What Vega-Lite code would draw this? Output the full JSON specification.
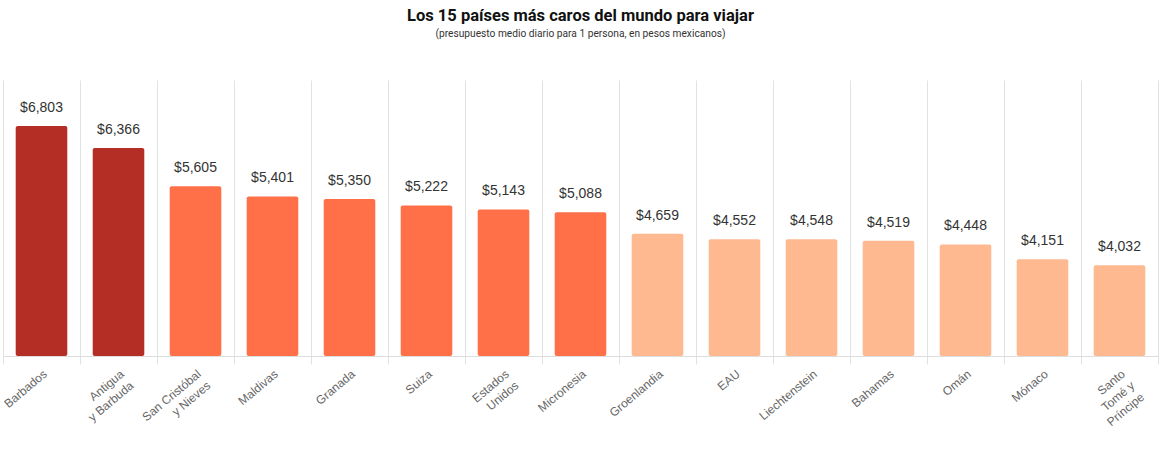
{
  "$schema": "https://vega.github.io/schema/vega-lite/v6.json",
  "autosize": "none",
  "width": 1155,
  "height": 276,
  "padding": {"left": 3, "top": 80, "right": 2, "bottom": 94},
  "background": "white",
  "title": {
    "text": "Los 15 países más caros del mundo para viajar",
    "subtitle": "(presupuesto medio diario para 1 persona, en pesos mexicanos)",
    "anchor": "middle",
    "offset": 41,
    "font": "Roboto",
    "fontSize": 16.5,
    "fontWeight": "bold",
    "color": "#111111",
    "subtitleFont": "Roboto",
    "subtitleFontSize": 10.2,
    "subtitleColor": "#333333",
    "subtitlePadding": 4
  },
  "data": {
    "values": [
      {"pais": "Barbados", "presupuesto": 6803, "grupo": "alto"},
      {"pais": "Antigua\ny Barbuda", "presupuesto": 6366, "grupo": "alto"},
      {"pais": "San Cristóbal\ny Nieves", "presupuesto": 5605, "grupo": "medio"},
      {"pais": "Maldivas", "presupuesto": 5401, "grupo": "medio"},
      {"pais": "Granada", "presupuesto": 5350, "grupo": "medio"},
      {"pais": "Suiza", "presupuesto": 5222, "grupo": "medio"},
      {"pais": "Estados\nUnidos", "presupuesto": 5143, "grupo": "medio"},
      {"pais": "Micronesia", "presupuesto": 5088, "grupo": "medio"},
      {"pais": "Groenlandia", "presupuesto": 4659, "grupo": "bajo"},
      {"pais": "EAU", "presupuesto": 4552, "grupo": "bajo"},
      {"pais": "Liechtenstein", "presupuesto": 4548, "grupo": "bajo"},
      {"pais": "Bahamas", "presupuesto": 4519, "grupo": "bajo"},
      {"pais": "Omán", "presupuesto": 4448, "grupo": "bajo"},
      {"pais": "Mónaco", "presupuesto": 4151, "grupo": "bajo"},
      {"pais": "Santo\nTomé y\nPríncipe", "presupuesto": 4032, "grupo": "bajo"}
    ]
  },
  "encoding": {
    "x": {
      "field": "pais",
      "type": "nominal",
      "sort": null,
      "scale": {"paddingInner": 0, "paddingOuter": 0},
      "axis": {
        "title": null,
        "tickBand": "extent",
        "grid": true,
        "gridColor": "#e2e2e2",
        "gridWidth": 1,
        "tickColor": "#e2e2e2",
        "tickSize": 8,
        "domainColor": "#dddddd",
        "labelAngle": -40,
        "labelFont": "Liberation Sans",
        "labelFontSize": 12,
        "labelColor": "#666666",
        "labelLineHeight": 15,
        "labelPadding": 4,
        "labelExpr": "split(datum.label, '\\n')"
      }
    },
    "y": {
      "field": "presupuesto",
      "type": "quantitative",
      "scale": {"domain": [2228, 7718], "zero": false, "nice": false},
      "axis": null
    }
  },
  "layer": [
    {
      "mark": {"type": "bar", "cornerRadius": 2, "width": {"band": 0.67}},
      "encoding": {
        "y2": {"datum": 2228},
        "color": {
          "field": "grupo",
          "type": "nominal",
          "scale": {"domain": ["alto", "medio", "bajo"], "range": ["#b52e25", "#ff7049", "#feb991"]},
          "legend": null
        }
      }
    },
    {
      "mark": {"type": "text", "baseline": "alphabetic", "dy": -14, "font": "Liberation Sans", "fontSize": 14, "color": "#333333"},
      "encoding": {
        "text": {"field": "presupuesto", "type": "quantitative", "format": "$,"}
      }
    }
  ],
  "config": {"view": {"stroke": null}}
}
